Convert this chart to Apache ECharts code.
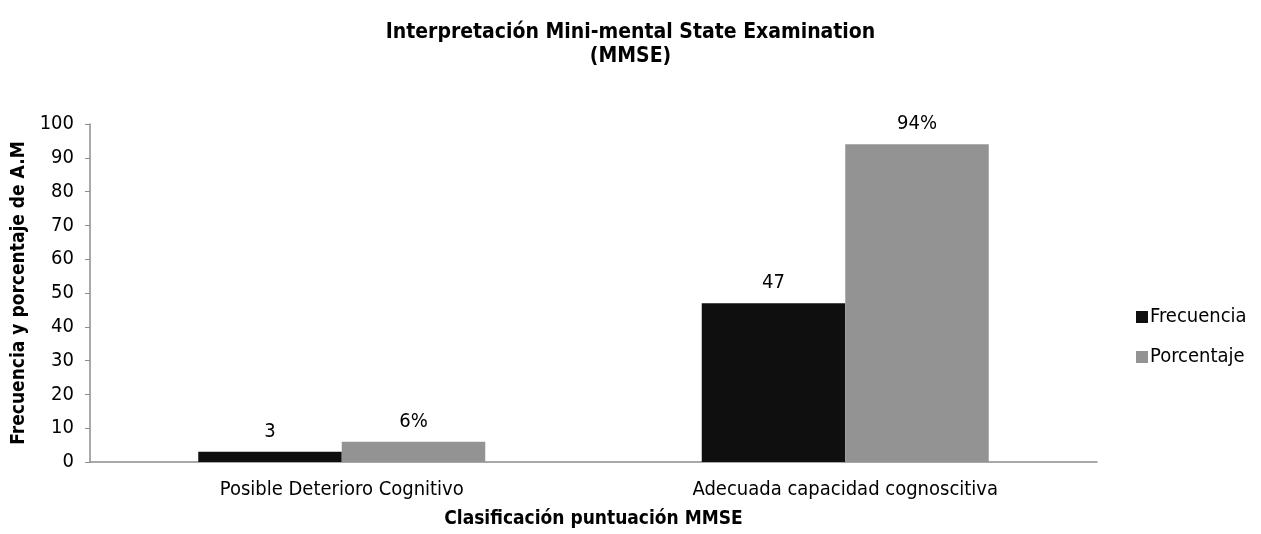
<!DOCTYPE html>
<html>
<head>
<meta charset="utf-8">
<script src="https://cdn.jsdelivr.net/npm/echarts@6/dist/echarts.min.js"></script>
<style>
html,body{margin:0;padding:0;background:#fff;}
#chart{width:1261px;height:534px;}
</style>
</head>
<body>
<div id="chart"></div>
<script>
const categories = ['Posible Deterioro Cognitivo', 'Adecuada capacidad cognoscitiva'];
const frecuencia = [3, 47];
const porcentaje = [6, 94];
const yTicks = { min: 0, max: 100, interval: 10 };

const FONT = '"DejaVu Sans Condensed", "DejaVu Sans", sans-serif';
const chart = echarts.init(document.getElementById('chart'));
chart.setOption({
  backgroundColor: '#ffffff',
  animation: false,
  title: {
    text: 'Interpretación Mini-mental State Examination\n(MMSE)',
    left: 'center',
    top: 16,
    textStyle: { fontFamily: FONT, fontSize: 21, fontWeight: 'bold', color: '#000', lineHeight: 24 }
  },
  legend: {
    orient: 'vertical',
    left: 1131,
    top: 302,
    itemWidth: 12,
    itemHeight: 12,
    itemGap: 20,
    icon: 'rect',
    textStyle: { fontFamily: FONT, fontSize: 20, color: '#000', padding: [0, 0, 0, -3] },
    data: ['Frecuencia', 'Porcentaje']
  },
  grid: { left: 90, right: 164, top: 124, bottom: 68, containLabel: false },
  xAxis: {
    type: 'category',
    data: categories,
    name: 'Clasificación puntuación MMSE',
    nameLocation: 'middle',
    nameGap: 48,
    nameTextStyle: { fontFamily: FONT, fontSize: 19, fontWeight: 'bold', color: '#000' },
    axisLine: { lineStyle: { color: '#8c8c8c', width: 1.5 } },
    axisTick: { show: false },
    axisLabel: { fontFamily: FONT, fontSize: 20, color: '#000', margin: 18 }
  },
  yAxis: {
    type: 'value',
    min: yTicks.min,
    max: yTicks.max,
    interval: yTicks.interval,
    name: 'Frecuencia y porcentaje de A.M',
    nameLocation: 'middle',
    nameGap: 60,
    nameTextStyle: { fontFamily: FONT, fontSize: 19, fontWeight: 'bold', color: '#000' },
    axisLine: { show: true, lineStyle: { color: '#8c8c8c', width: 1.5 } },
    axisTick: { show: true, length: 5, lineStyle: { color: '#8c8c8c' } },
    splitLine: { show: false },
    axisLabel: { fontFamily: FONT, fontSize: 20, color: '#000', margin: 16 }
  },
  series: [
    {
      name: 'Frecuencia',
      type: 'bar',
      data: frecuencia,
      barGap: '0%',
      barCategoryGap: '43%',
      itemStyle: { color: '#0f0f0f' },
      label: { show: true, position: 'top', distance: 10, fontFamily: FONT, fontSize: 20, color: '#000' }
    },
    {
      name: 'Porcentaje',
      type: 'bar',
      data: porcentaje,
      barGap: '0%',
      barCategoryGap: '43%',
      itemStyle: { color: '#939393' },
      label: { show: true, position: 'top', distance: 10, fontFamily: FONT, fontSize: 20, color: '#000', formatter: '{c}%' }
    }
  ]
});
</script>
</body>
</html>
